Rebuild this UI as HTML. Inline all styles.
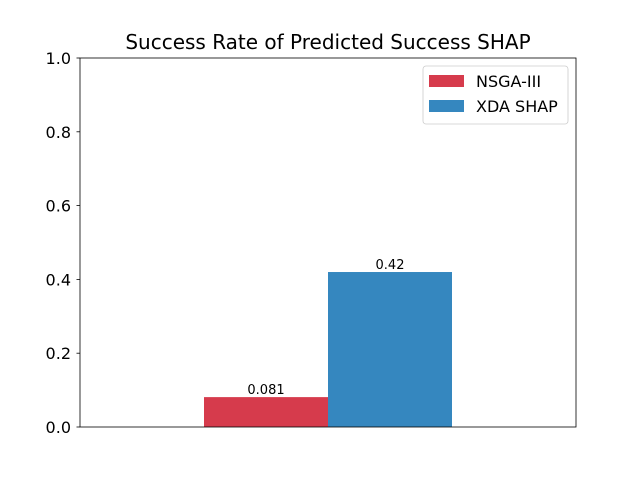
<!DOCTYPE html>
<html><head><meta charset="utf-8"><style>
body{margin:0;background:#fff}
svg{display:block;font-family:"DejaVu Sans","Liberation Sans",sans-serif}
</style></head><body>
<svg id="chart" width="640" height="480" xmlns="http://www.w3.org/2000/svg">
<rect width="640" height="480" fill="#fff"/>
<text x="328" y="49" font-size="20" text-anchor="middle">Success Rate of Predicted Success SHAP</text>
<g id="bars"></g>
<g id="yticks"></g>
<rect x="80" y="58" width="496" height="369" fill="none" stroke="#000" stroke-width="0.8"/>
<g>
<rect x="423" y="66" width="145" height="58" rx="3" fill="#fff" stroke="#ccc" stroke-width="0.8"/>
<g>
<rect x="429" y="75" width="35" height="12" fill="#d63b4c"/>
<text x="476" y="87" font-size="16">NSGA-III</text></g>
<g>
<rect x="429" y="100" width="35" height="12" fill="#3587bf"/>
<text x="476" y="112" font-size="16">XDA SHAP</text></g>
</g>
</svg>
<script>
const series = ["NSGA-III", "XDA SHAP"];
const values = [0.081, 0.42];
const labels = ["0.081", "0.42"];
const colors = ["#d63b4c", "#3587bf"];
const yTicks = [0, 0.2, 0.4, 0.6, 0.8, 1.0];
const yTickLabels = ["0.0", "0.2", "0.4", "0.6", "0.8", "1.0"];
const NS = "http://www.w3.org/2000/svg";
const x = v => 328 + v * 248;
const y = v => 427 - v * 369;
const barW = 0.5;
const bars = document.getElementById("bars");
values.forEach((v, i) => {
  const c = -0.25 + i * 0.5;
  const r = document.createElementNS(NS, "rect");
  r.setAttribute("x", x(c - barW / 2));
  r.setAttribute("y", y(v));
  r.setAttribute("width", barW * 248);
  r.setAttribute("height", y(0) - y(v));
  r.setAttribute("fill", colors[i]);
  
  
  bars.appendChild(r);
  const t = document.createElementNS(NS, "text");
  t.setAttribute("x", x(c));
  t.setAttribute("y", y(v) - 3);
  t.setAttribute("font-size", "13");
  t.setAttribute("text-anchor", "middle");
  t.textContent = labels[i];
  
  
  bars.appendChild(t);
});
const yt = document.getElementById("yticks");
yTicks.forEach((v, i) => {
  const l = document.createElementNS(NS, "line");
  l.setAttribute("x1", 76.5); l.setAttribute("x2", 80);
  l.setAttribute("y1", y(v)); l.setAttribute("y2", y(v));
  l.setAttribute("stroke", "#000"); l.setAttribute("stroke-width", "0.8");
  
  
  yt.appendChild(l);
  const t = document.createElementNS(NS, "text");
  t.setAttribute("x", 71); t.setAttribute("y", y(v) + 6);
  t.setAttribute("font-size", "16"); t.setAttribute("text-anchor", "end");
  t.textContent = yTickLabels[i];
  
  
  yt.appendChild(t);
});
</script>
</body></html>
